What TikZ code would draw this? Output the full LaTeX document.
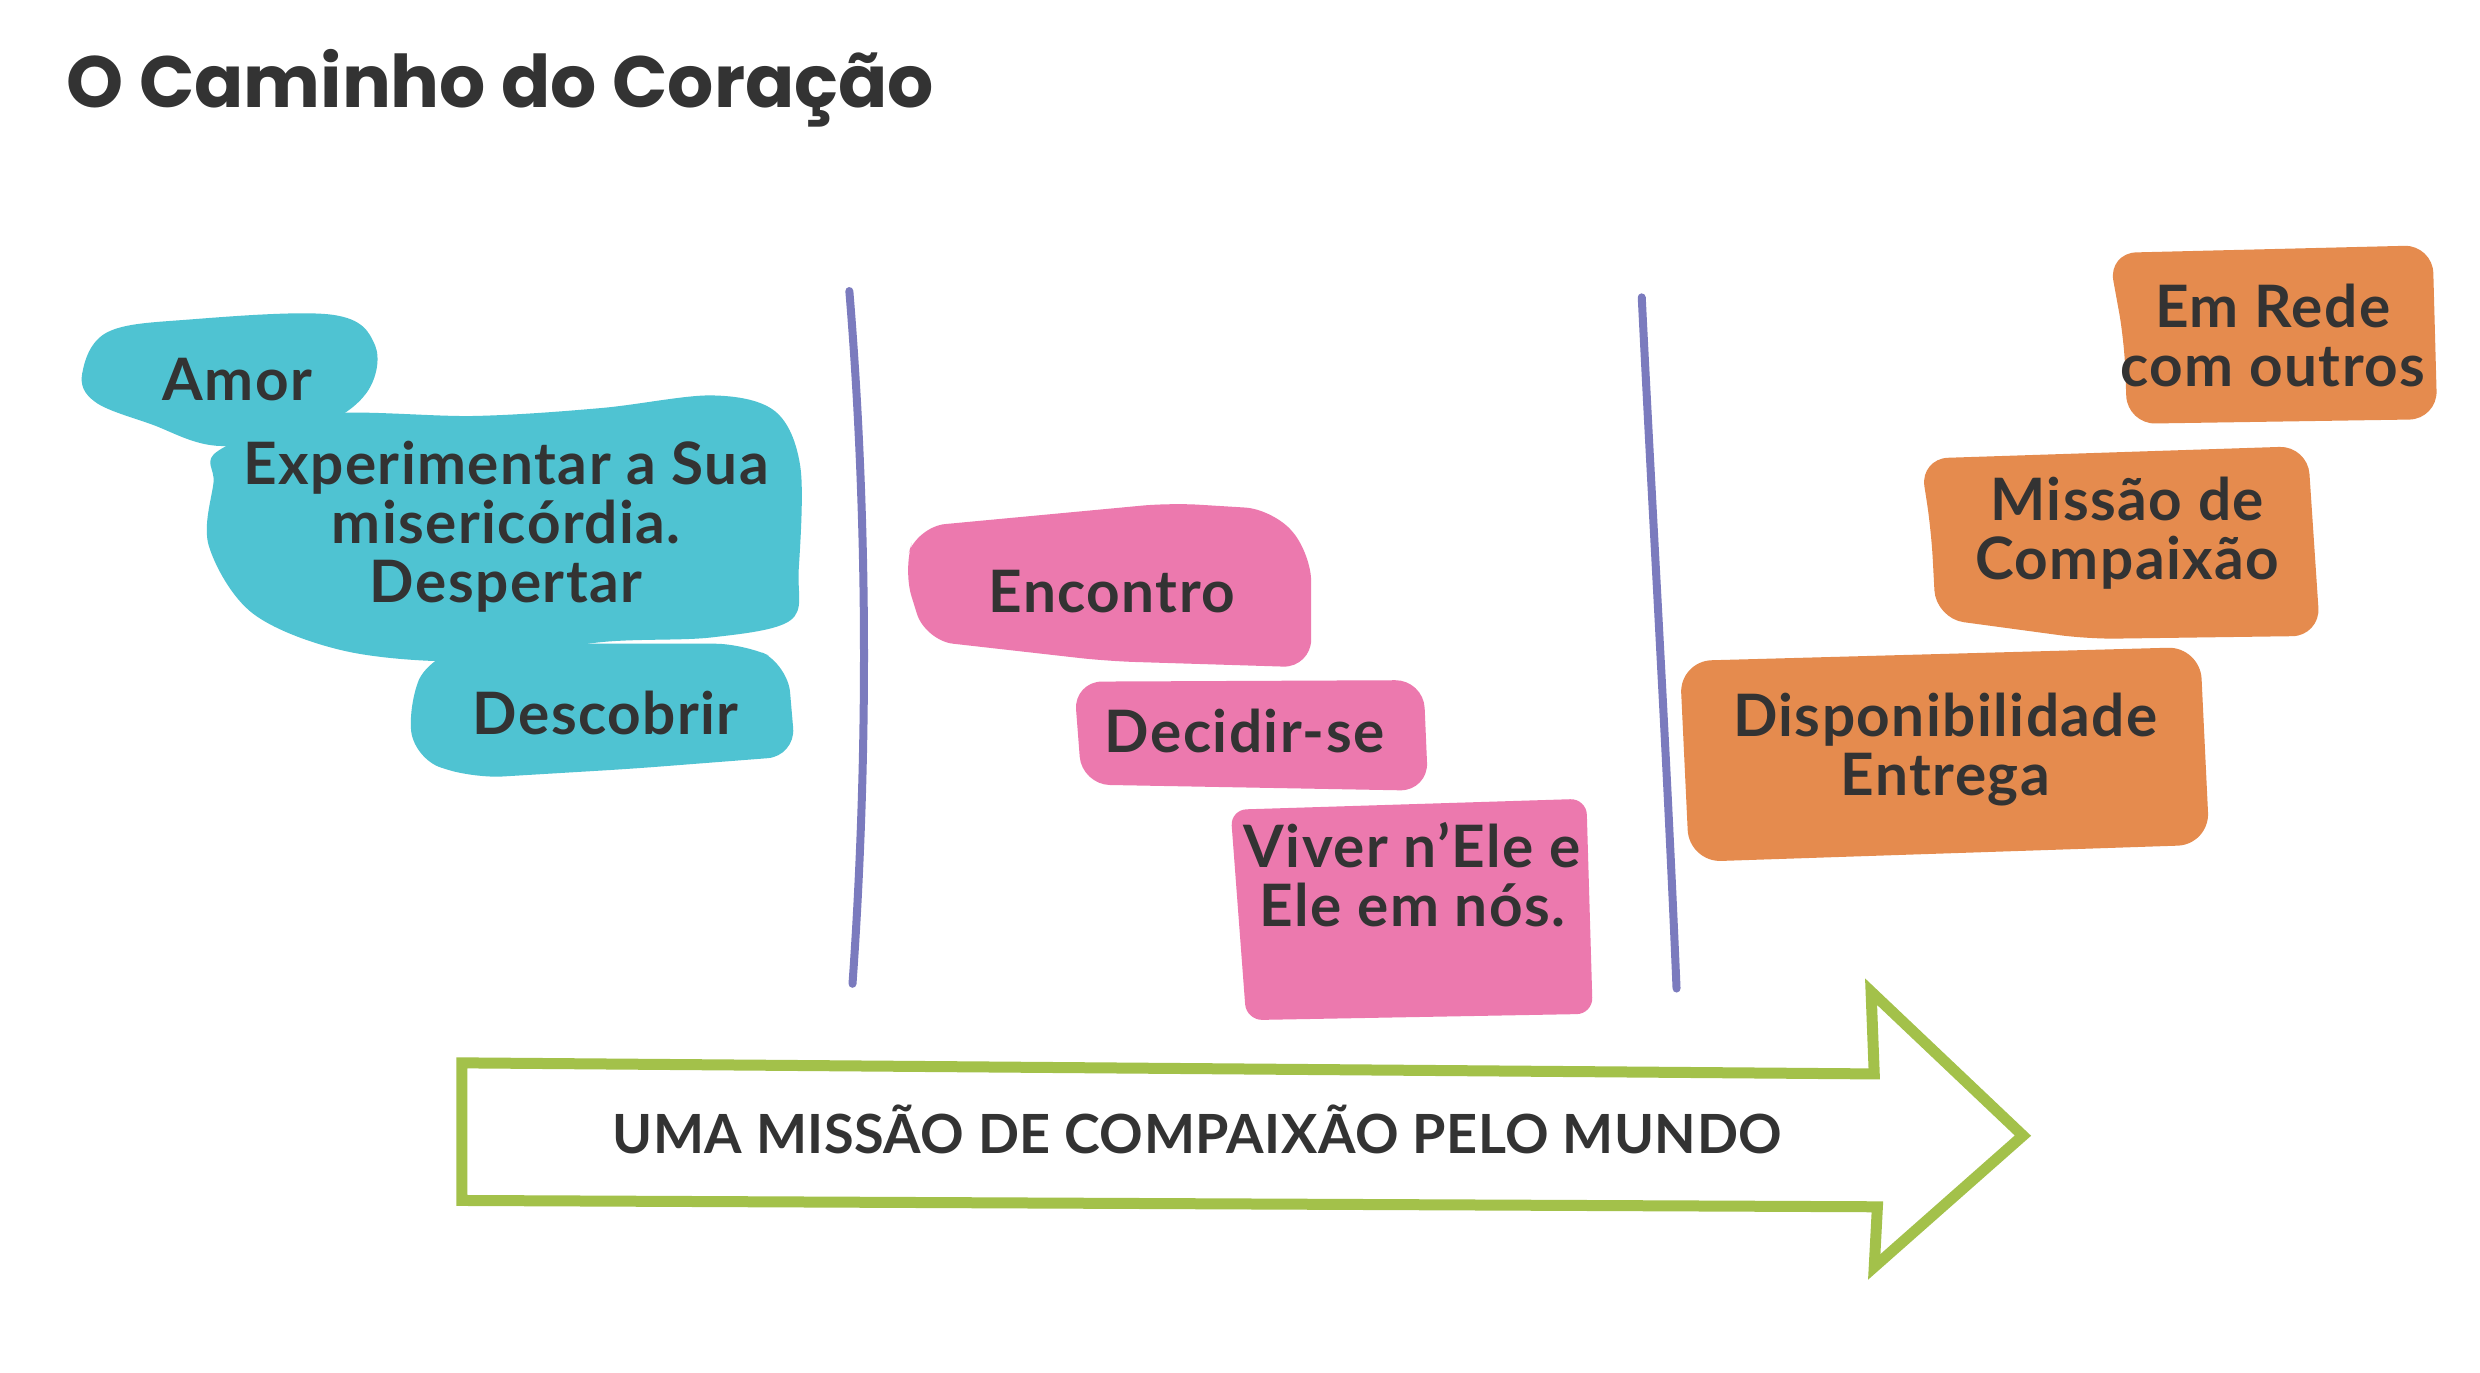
\documentclass[tikz,border=0pt]{standalone}
\usepackage{fontspec}
\setmainfont{Lato}
\newfontfamily\titlefont{Poppins}
\newfontfamily\bodyfont{Lato}[LetterSpace=2.5]
\newfontfamily\arrowfont{Lato}[LetterSpace=1]
\definecolor{ink}{HTML}{333333}
\definecolor{cyanblob}{HTML}{4FC3D2}
\definecolor{pinkblob}{HTML}{EC79AE}
\definecolor{orangeblob}{HTML}{E58B4E}
\definecolor{divider}{HTML}{7B7BBE}
\definecolor{arrowgreen}{HTML}{A3C14A}
\tikzset{
  lbl/.style={text=ink, align=center, inner sep=0pt, font=\bodyfont\bfseries\fontsize{58.5}{59}\selectfont},
  divline/.style={draw=divider, line width=8pt, line cap=round},
  arrowline/.style={draw=arrowgreen, line width=11pt, line join=miter, fill=white},
  blobr/.style={rounded corners=28pt}
}
\begin{document}
\begin{tikzpicture}[x=1.5816pt,y=-1.5816pt]
\useasboundingbox[fill=white] (0,0) rectangle (1568,868);
% title
\node[text=ink, anchor=base west, inner sep=0pt, font=\titlefont\bfseries\fontsize{72.6}{80}\selectfont] (title) at (42,68) {O Caminho do Coração};
% blue blobs
\fill[cyanblob] plot[smooth cycle, tension=0.6] coordinates {(52,236) (68,210) (120,202) (210,199) (237,218) (232,248) (200,270) (140,282) (95,268) (60,254)};
\fill[cyanblob] plot[smooth cycle, tension=0.55] coordinates {(138,285) (200,262) (300,263) (380,258) (450,250) (490,260) (506,295) (505,360) (500,392) (450,403) (380,406) (300,418) (220,412) (160,388) (132,345) (135,305)};
\fill[cyanblob, blobr] (258,445) -- (272,414) -- (330,407) -- (470,407) -- (498,420) -- (503,478) -- (400,486) -- (300,492) -- (262,480) -- cycle;
% pink blobs
\fill[pinkblob, blobr] (571,360) -- (580,333) -- (740,318) -- (805,322) -- (829,350) -- (829,422) -- (700,418) -- (585,405) -- cycle;
\fill[pinkblob, blobr] (679,431) -- (900,430) -- (903,500) -- (684,496) -- cycle;
\fill[pinkblob, rounded corners=16pt] (778,512) -- (1003,505) -- (1007,641) -- (788,645) -- cycle;
% orange blobs
\fill[orangeblob, blobr] (1333,160) -- (1538,155) -- (1541,265) -- (1345,268) -- (1343,215) -- cycle;
\fill[orangeblob, blobr] (1214,290) -- (1459,282) -- (1467,402) -- (1320,404) -- (1224,391) -- (1221,335) -- cycle;
\fill[orangeblob, rounded corners=32pt] (1062,418) -- (1391,409) -- (1397,534) -- (1068,545) -- cycle;
% dividers
\coordinate (d1a) at (537,184); \coordinate (d1b) at (539,622);
\coordinate (d2a) at (1038,188); \coordinate (d2b) at (1060,625);
\draw[divline] (d1a) .. controls (549,330) and (549,480) .. (d1b);
\draw[divline] (d2a) .. controls (1045,330) and (1054,480) .. (d2b);
% arrow
\draw[arrowline] (292,672) -- (1185,679) -- (1183,627) -- (1279,718) -- (1185,801) -- (1187,763) -- (292,759) -- cycle;
\node[text=ink, inner sep=0pt, font=\arrowfont\bfseries\fontsize{54}{60}\selectfont] (mission) at (757,714) {UMA MISSÃO DE COMPAIXÃO PELO MUNDO};
% labels
\node[lbl] (amor) at (150,240) {Amor};
\node[lbl] (exper) at (320,333) {Experimentar a Sua\\misericórdia.\\Despertar};
\node[lbl] (descobrir) at (383,451) {Descobrir};
\node[lbl] (encontro) at (703,374) {Encontro};
\node[lbl] (decidir) at (787,462) {Decidir-se};
\node[lbl] (viver) at (893,553) {Viver n’Ele e\\Ele em nós.};
\node[lbl] (rede) at (1437,212) {Em Rede\\com outros};
\node[lbl] (missao) at (1345,337) {Missão de\\Compaixão};
\node[lbl] (dispo) at (1230,474) {Disponibilidade\\Entrega};
\end{tikzpicture}
\end{document}
